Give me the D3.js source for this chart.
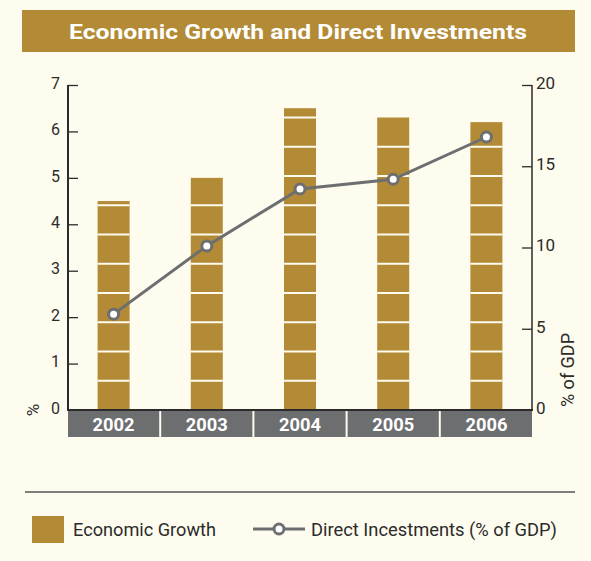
<!DOCTYPE html>
<html>
<head>
<meta charset="utf-8">
<script src="https://cdn.jsdelivr.net/npm/d3@7"></script>
<style>
  html, body { margin: 0; padding: 0; background: #fefcee; }
  svg { display: block; }
  text { font-family: Roboto, "Liberation Sans", sans-serif; }
</style>
</head>
<body>
<svg id="chart" width="591" height="561"></svg>
<script>
// Chart data
const years = ["2002", "2003", "2004", "2005", "2006"];
const growth = [4.5, 5.0, 6.5, 6.3, 6.2];            // economic growth, %
const investments = [5.9, 10.1, 13.6, 14.2, 16.8];   // direct investments, % of GDP
const leftTicks = [0, 1, 2, 3, 4, 5, 6, 7];
const rightTicks = [0, 5, 10, 15, 20];

const GOLD = "#b38a35";
const GREY = "#6d6e70";
const BG = "#fefcee";
const INK = "#2b2b2b";

const svg = d3.select("#chart");
svg.append("rect").attr("width", 591).attr("height", 561).attr("fill", BG);

// Title banner
svg.append("rect").attr("x", 22).attr("y", 10).attr("width", 553).attr("height", 42).attr("fill", GOLD);
svg.append("text").attr("x", 298).attr("y", 39).attr("text-anchor", "middle")
  .attr("fill", "#fff").attr("font-size", 21).attr("font-weight", 700)
  .attr("textLength", 458).attr("lengthAdjust", "spacingAndGlyphs")
  .text("Economic Growth and Direct Investments");

// Scales
const plotTop = 85, plotBottom = 410, plotLeft = 68, plotRight = 532;
const x = d3.scaleBand().domain(years).range([67, 533]).padding(0);
const yL = d3.scaleLinear().domain([0, 7]).range([plotBottom, plotTop]);
const yR = d3.scaleLinear().domain([0, 20]).range([plotBottom, plotTop]);
const barW = 32;

// Bars with horizontal cream stripes
const stripeStep = 0.63;
const bars = svg.append("g");
years.forEach((yr, i) => {
  const cx = x(yr) + x.bandwidth() / 2;
  const v = growth[i];
  bars.append("rect").attr("x", cx - barW / 2).attr("y", yL(v))
    .attr("width", barW).attr("height", yL(0) - yL(v)).attr("fill", GOLD);
  for (let k = 1; k * stripeStep < v - 0.05; k++) {
    bars.append("line")
      .attr("x1", cx - barW / 2).attr("x2", cx + barW / 2)
      .attr("y1", yL(k * stripeStep)).attr("y2", yL(k * stripeStep))
      .attr("stroke", BG).attr("stroke-width", 2);
  }
});

// Left axis
const axL = svg.append("g").attr("transform", `translate(${plotLeft},0)`)
  .call(d3.axisLeft(yL).tickValues(leftTicks).tickSize(-10).tickPadding(8).tickFormat(d3.format("d")));
axL.select(".domain").remove();
axL.append("line").attr("x1", 0).attr("x2", 0).attr("y1", plotTop).attr("y2", plotBottom)
  .attr("stroke", INK).attr("stroke-width", 2);
axL.selectAll(".tick line").attr("stroke", INK).attr("stroke-width", 1.3);
axL.selectAll(".tick text").attr("fill", INK).attr("font-size", 16)
  .attr("font-family", "Roboto, sans-serif").attr("dy", "0.2em");

// Right axis
const axR = svg.append("g").attr("transform", `translate(${plotRight},0)`)
  .call(d3.axisRight(yR).tickValues(rightTicks).tickSize(-10).tickPadding(4).tickFormat(d3.format("d")));
axR.select(".domain").remove();
axR.append("line").attr("x1", 0).attr("x2", 0).attr("y1", plotTop).attr("y2", plotBottom)
  .attr("stroke", INK).attr("stroke-width", 1.5);
axR.selectAll(".tick line").attr("stroke", INK).attr("stroke-width", 1.3);
axR.selectAll(".tick text").attr("fill", INK).attr("font-size", 17)
  .attr("font-family", "Roboto, sans-serif").attr("dy", "0.2em");

// Baseline
svg.append("line").attr("x1", 67).attr("x2", 533).attr("y1", plotBottom).attr("y2", plotBottom)
  .attr("stroke", INK).attr("stroke-width", 2);

// Category band
const cats = svg.append("g");
years.forEach(yr => {
  cats.append("rect").attr("x", x(yr) + 1).attr("y", 411).attr("width", x.bandwidth() - 2)
    .attr("height", 26).attr("fill", GREY);
  cats.append("text").attr("x", x(yr) + x.bandwidth() / 2).attr("y", 430.5)
    .attr("text-anchor", "middle").attr("fill", "#fff").attr("font-size", 18).attr("font-weight", 700)
    .attr("textLength", 42).attr("lengthAdjust", "spacingAndGlyphs")
    .text(yr);
});

// Axis titles
svg.append("text").attr("transform", "translate(39,410) rotate(-90)")
  .attr("text-anchor", "middle").attr("fill", INK).attr("font-size", 17).text("%");
svg.append("text").attr("transform", "translate(574,370) rotate(-90)")
  .attr("text-anchor", "middle").attr("fill", INK).attr("font-size", 18).text("% of GDP");

// Investment line
const line = d3.line().x((d, i) => x(years[i]) + x.bandwidth() / 2).y(d => yR(d));
svg.append("path").datum(investments).attr("d", line)
  .attr("fill", "none").attr("stroke", GREY).attr("stroke-width", 3);
svg.append("g").selectAll("circle").data(investments).join("circle")
  .attr("cx", (d, i) => x(years[i]) + x.bandwidth() / 2).attr("cy", d => yR(d))
  .attr("r", 5).attr("fill", "#fff").attr("stroke", GREY).attr("stroke-width", 3);

// Legend
svg.append("line").attr("x1", 25).attr("x2", 575).attr("y1", 492).attr("y2", 492)
  .attr("stroke", "#555").attr("stroke-width", 1.5);
svg.append("rect").attr("x", 32).attr("y", 516).attr("width", 32).attr("height", 27).attr("fill", GOLD);
svg.append("text").attr("x", 73).attr("y", 536).attr("fill", INK).attr("font-size", 18)
  .attr("textLength", 143).attr("lengthAdjust", "spacingAndGlyphs")
  .text("Economic Growth");
svg.append("line").attr("x1", 253).attr("x2", 305).attr("y1", 529).attr("y2", 529)
  .attr("stroke", GREY).attr("stroke-width", 3);
svg.append("circle").attr("cx", 279).attr("cy", 529).attr("r", 5)
  .attr("fill", "#fff").attr("stroke", GREY).attr("stroke-width", 3);
svg.append("text").attr("x", 311).attr("y", 536).attr("fill", INK).attr("font-size", 18)
  .attr("textLength", 246).attr("lengthAdjust", "spacingAndGlyphs")
  .text("Direct Incestments (% of GDP)");
</script>
</body>
</html>
